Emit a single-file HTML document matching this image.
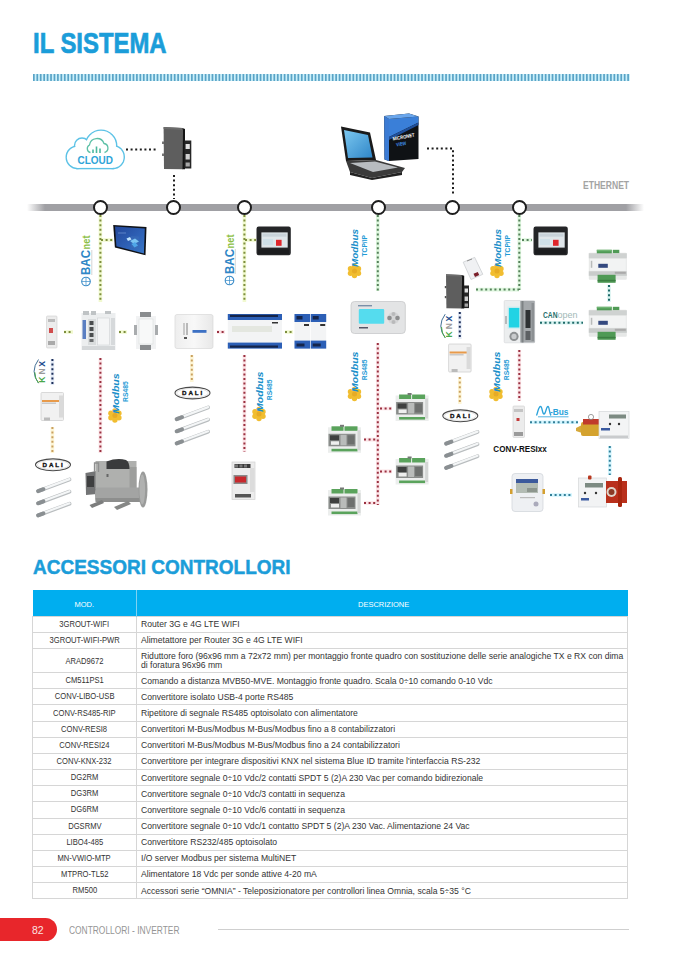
<!DOCTYPE html>
<html><head><meta charset="utf-8">
<style>
*{margin:0;padding:0;box-sizing:border-box}
html,body{width:678px;height:959px;background:#fff;overflow:hidden}
body{position:relative;font-family:"Liberation Sans",sans-serif;color:#333}
.a{position:absolute}
.t1{left:33px;top:26.5px;font-size:28.6px;font-weight:700;color:#1b9dd9;-webkit-text-stroke:0.7px #1b9dd9;white-space:nowrap;transform-origin:0 0;transform:scaleX(0.835);line-height:32px}
.dash{left:33px;top:73.5px;width:596px;height:7px;background:repeating-linear-gradient(90deg,#5aaacb 0 1.8px,#c9eefa 1.8px 3.44px)}
.bar{left:27px;top:204px;width:617px;height:7px;background:linear-gradient(90deg,rgba(160,160,164,0) 0,#a0a0a4 18px,#a0a0a4 599px,rgba(160,160,164,0) 617px)}
.node{width:15px;height:15px;border:2px solid #1d1d1d;border-radius:50%;background:#fff;top:200px}
.eth{left:583px;top:179.7px;font-size:10px;font-weight:700;color:#a3a3a3;white-space:nowrap;transform-origin:0 0;transform:scaleX(0.855)}
.t2{left:33px;top:554.6px;font-size:20.3px;font-weight:700;color:#1b9dd9;-webkit-text-stroke:0.5px #1b9dd9;white-space:nowrap;transform-origin:0 0;transform:scaleX(0.937);line-height:24px}
table{position:absolute;left:32px;top:590px;width:596px;border-collapse:collapse;font-size:8.6px;color:#333}
th{background:#00aeef;color:#fff;font-weight:400;height:26px;font-size:7.5px;padding-top:3px;border-right:1px solid #7fd2f2}
th:last-child{border-right:none}
td{height:16.17px;border:1px solid #d6d6d6;padding:3.5px 0 0 4px;line-height:8.8px;vertical-align:top}
td:first-child{text-align:center;padding:3.1px 0 0 0;width:104px;font-size:8.6px}
.c1{display:inline-block;transform:scaleX(0.885);white-space:nowrap}
tr.d td{height:24.3px;padding-top:3.5px}
tr.d td:first-child{padding-top:8px}
.pill{left:0;top:918px;width:57px;height:23px;background:#e8262b;border-radius:0 11.5px 11.5px 0}
.pg{left:32px;top:923px;font-size:10.5px;color:#fbe2e2;line-height:14px}
.foot{left:69px;top:923.5px;font-size:10px;color:#959595;white-space:nowrap;line-height:14px;transform-origin:0 0;transform:scaleX(0.84)}
.fline{left:218px;top:929px;width:411px;height:1px;background:#cfcfcf}
</style></head><body>
<div class="a t1">IL SISTEMA</div>
<svg class="a" style="left:32.9px;top:73.6px" width="597" height="7" viewBox="0 0 597 7"><rect width="597" height="7" fill="#cdf1fb"/><g fill="#5aa3c6"><rect x="0.00" width="1.7" height="7"/><rect x="3.44" width="1.7" height="7"/><rect x="6.87" width="1.7" height="7"/><rect x="10.31" width="1.7" height="7"/><rect x="13.74" width="1.7" height="7"/><rect x="17.18" width="1.7" height="7"/><rect x="20.61" width="1.7" height="7"/><rect x="24.05" width="1.7" height="7"/><rect x="27.48" width="1.7" height="7"/><rect x="30.92" width="1.7" height="7"/><rect x="34.35" width="1.7" height="7"/><rect x="37.79" width="1.7" height="7"/><rect x="41.22" width="1.7" height="7"/><rect x="44.66" width="1.7" height="7"/><rect x="48.09" width="1.7" height="7"/><rect x="51.53" width="1.7" height="7"/><rect x="54.96" width="1.7" height="7"/><rect x="58.40" width="1.7" height="7"/><rect x="61.83" width="1.7" height="7"/><rect x="65.27" width="1.7" height="7"/><rect x="68.70" width="1.7" height="7"/><rect x="72.14" width="1.7" height="7"/><rect x="75.57" width="1.7" height="7"/><rect x="79.01" width="1.7" height="7"/><rect x="82.44" width="1.7" height="7"/><rect x="85.88" width="1.7" height="7"/><rect x="89.31" width="1.7" height="7"/><rect x="92.75" width="1.7" height="7"/><rect x="96.18" width="1.7" height="7"/><rect x="99.62" width="1.7" height="7"/><rect x="103.05" width="1.7" height="7"/><rect x="106.49" width="1.7" height="7"/><rect x="109.92" width="1.7" height="7"/><rect x="113.36" width="1.7" height="7"/><rect x="116.79" width="1.7" height="7"/><rect x="120.23" width="1.7" height="7"/><rect x="123.66" width="1.7" height="7"/><rect x="127.10" width="1.7" height="7"/><rect x="130.53" width="1.7" height="7"/><rect x="133.97" width="1.7" height="7"/><rect x="137.40" width="1.7" height="7"/><rect x="140.84" width="1.7" height="7"/><rect x="144.27" width="1.7" height="7"/><rect x="147.71" width="1.7" height="7"/><rect x="151.14" width="1.7" height="7"/><rect x="154.58" width="1.7" height="7"/><rect x="158.01" width="1.7" height="7"/><rect x="161.45" width="1.7" height="7"/><rect x="164.88" width="1.7" height="7"/><rect x="168.32" width="1.7" height="7"/><rect x="171.75" width="1.7" height="7"/><rect x="175.19" width="1.7" height="7"/><rect x="178.62" width="1.7" height="7"/><rect x="182.06" width="1.7" height="7"/><rect x="185.49" width="1.7" height="7"/><rect x="188.93" width="1.7" height="7"/><rect x="192.36" width="1.7" height="7"/><rect x="195.80" width="1.7" height="7"/><rect x="199.23" width="1.7" height="7"/><rect x="202.67" width="1.7" height="7"/><rect x="206.10" width="1.7" height="7"/><rect x="209.54" width="1.7" height="7"/><rect x="212.97" width="1.7" height="7"/><rect x="216.41" width="1.7" height="7"/><rect x="219.84" width="1.7" height="7"/><rect x="223.28" width="1.7" height="7"/><rect x="226.71" width="1.7" height="7"/><rect x="230.15" width="1.7" height="7"/><rect x="233.58" width="1.7" height="7"/><rect x="237.02" width="1.7" height="7"/><rect x="240.45" width="1.7" height="7"/><rect x="243.89" width="1.7" height="7"/><rect x="247.32" width="1.7" height="7"/><rect x="250.76" width="1.7" height="7"/><rect x="254.19" width="1.7" height="7"/><rect x="257.63" width="1.7" height="7"/><rect x="261.06" width="1.7" height="7"/><rect x="264.50" width="1.7" height="7"/><rect x="267.93" width="1.7" height="7"/><rect x="271.37" width="1.7" height="7"/><rect x="274.80" width="1.7" height="7"/><rect x="278.24" width="1.7" height="7"/><rect x="281.67" width="1.7" height="7"/><rect x="285.11" width="1.7" height="7"/><rect x="288.54" width="1.7" height="7"/><rect x="291.98" width="1.7" height="7"/><rect x="295.41" width="1.7" height="7"/><rect x="298.85" width="1.7" height="7"/><rect x="302.28" width="1.7" height="7"/><rect x="305.72" width="1.7" height="7"/><rect x="309.15" width="1.7" height="7"/><rect x="312.59" width="1.7" height="7"/><rect x="316.02" width="1.7" height="7"/><rect x="319.46" width="1.7" height="7"/><rect x="322.89" width="1.7" height="7"/><rect x="326.33" width="1.7" height="7"/><rect x="329.76" width="1.7" height="7"/><rect x="333.20" width="1.7" height="7"/><rect x="336.63" width="1.7" height="7"/><rect x="340.07" width="1.7" height="7"/><rect x="343.50" width="1.7" height="7"/><rect x="346.94" width="1.7" height="7"/><rect x="350.37" width="1.7" height="7"/><rect x="353.81" width="1.7" height="7"/><rect x="357.24" width="1.7" height="7"/><rect x="360.68" width="1.7" height="7"/><rect x="364.11" width="1.7" height="7"/><rect x="367.55" width="1.7" height="7"/><rect x="370.98" width="1.7" height="7"/><rect x="374.42" width="1.7" height="7"/><rect x="377.85" width="1.7" height="7"/><rect x="381.29" width="1.7" height="7"/><rect x="384.72" width="1.7" height="7"/><rect x="388.16" width="1.7" height="7"/><rect x="391.59" width="1.7" height="7"/><rect x="395.03" width="1.7" height="7"/><rect x="398.46" width="1.7" height="7"/><rect x="401.90" width="1.7" height="7"/><rect x="405.33" width="1.7" height="7"/><rect x="408.77" width="1.7" height="7"/><rect x="412.20" width="1.7" height="7"/><rect x="415.64" width="1.7" height="7"/><rect x="419.07" width="1.7" height="7"/><rect x="422.51" width="1.7" height="7"/><rect x="425.94" width="1.7" height="7"/><rect x="429.38" width="1.7" height="7"/><rect x="432.81" width="1.7" height="7"/><rect x="436.25" width="1.7" height="7"/><rect x="439.68" width="1.7" height="7"/><rect x="443.12" width="1.7" height="7"/><rect x="446.55" width="1.7" height="7"/><rect x="449.99" width="1.7" height="7"/><rect x="453.42" width="1.7" height="7"/><rect x="456.86" width="1.7" height="7"/><rect x="460.29" width="1.7" height="7"/><rect x="463.73" width="1.7" height="7"/><rect x="467.16" width="1.7" height="7"/><rect x="470.60" width="1.7" height="7"/><rect x="474.03" width="1.7" height="7"/><rect x="477.47" width="1.7" height="7"/><rect x="480.90" width="1.7" height="7"/><rect x="484.34" width="1.7" height="7"/><rect x="487.77" width="1.7" height="7"/><rect x="491.21" width="1.7" height="7"/><rect x="494.64" width="1.7" height="7"/><rect x="498.08" width="1.7" height="7"/><rect x="501.51" width="1.7" height="7"/><rect x="504.94" width="1.7" height="7"/><rect x="508.38" width="1.7" height="7"/><rect x="511.81" width="1.7" height="7"/><rect x="515.25" width="1.7" height="7"/><rect x="518.68" width="1.7" height="7"/><rect x="522.12" width="1.7" height="7"/><rect x="525.55" width="1.7" height="7"/><rect x="528.99" width="1.7" height="7"/><rect x="532.42" width="1.7" height="7"/><rect x="535.86" width="1.7" height="7"/><rect x="539.29" width="1.7" height="7"/><rect x="542.73" width="1.7" height="7"/><rect x="546.16" width="1.7" height="7"/><rect x="549.60" width="1.7" height="7"/><rect x="553.03" width="1.7" height="7"/><rect x="556.47" width="1.7" height="7"/><rect x="559.90" width="1.7" height="7"/><rect x="563.34" width="1.7" height="7"/><rect x="566.77" width="1.7" height="7"/><rect x="570.21" width="1.7" height="7"/><rect x="573.64" width="1.7" height="7"/><rect x="577.08" width="1.7" height="7"/><rect x="580.51" width="1.7" height="7"/><rect x="583.95" width="1.7" height="7"/><rect x="587.38" width="1.7" height="7"/><rect x="590.82" width="1.7" height="7"/><rect x="594.25" width="1.7" height="7"/></g></svg>

<div class="a eth">ETHERNET</div>
<div class="a bar"></div>
<div class="a node" style="left:93px"></div>
<div class="a node" style="left:166px"></div>
<div class="a node" style="left:237px"></div>
<div class="a node" style="left:371px"></div>
<div class="a node" style="left:445px"></div>
<div class="a node" style="left:512px"></div>

<svg class="a" style="left:0;top:0" width="678" height="560" viewBox="0 0 678 560">
<defs>
<linearGradient id="scr1" x1="0" y1="0" x2="1" y2="1"><stop offset="0" stop-color="#23479a"/><stop offset="0.6" stop-color="#2f63b8"/><stop offset="1" stop-color="#3a78c8"/></linearGradient>
<linearGradient id="lap" x1="0" y1="0" x2="1" y2="1"><stop offset="0" stop-color="#7cc8f0"/><stop offset="1" stop-color="#2f86c8"/></linearGradient>
<linearGradient id="box" x1="0" y1="0" x2="0" y2="1"><stop offset="0" stop-color="#2b6fd0"/><stop offset="1" stop-color="#5b9be8"/></linearGradient>
</defs>
<g fill="none" stroke-linecap="butt">
<!-- black dots top -->
<path d="M126 149.5H158M174 175V199M427 148.6H453V194" stroke="#1e1e1e" stroke-width="2" stroke-dasharray="2 2.6"/>
<!-- yellow-green BACnet dots -->
<path d="M100.4 215V302M101 240H113M244.4 215V302M245 240H256" stroke="#f1f9cf" stroke-width="3.6"/>
<path d="M100.4 215V302M101 240H113M244.4 215V302M245 240H256" stroke="#7d8e3e" stroke-width="2" stroke-dasharray="2 2.6"/>
<path d="M64 332H73M119 332H127M285 332H293" stroke="#f1f9cf" stroke-width="3.6"/>
<path d="M64 332H73M119 332H127M285 332H293" stroke="#7d8e3e" stroke-width="2" stroke-dasharray="2 2.6"/>
<!-- green modbus tcp dots -->
<path d="M377.8 215V291M519.3 215V290M476 289.6H519M522 240H532" stroke="#ddf6dd" stroke-width="3.6"/>
<path d="M377.8 215V291M519.3 215V290M476 289.6H519M522 240H532" stroke="#55805a" stroke-width="2" stroke-dasharray="2 2.6"/>
<!-- red dots -->
<path d="M100.4 358V453M244.4 355V452M217 332H225M377.8 343V505M519.3 350V401M380 408.5H392M380 471.4H392M364 439.6H376M364 503H376" stroke="#fbe3e6" stroke-width="3.6"/>
<path d="M100.4 358V453M244.4 355V452M217 332H225M377.8 343V505M519.3 350V401M380 408.5H392M380 471.4H392M364 439.6H376M364 503H376" stroke="#9a3040" stroke-width="2" stroke-dasharray="2 2.6"/>
<!-- orange dots -->
<path d="M52.4 427V453M191.8 355V382M459.8 377V404" stroke="#fdf5d6" stroke-width="3.6"/>
<path d="M52.4 427V453M191.8 355V382M459.8 377V404" stroke="#c9a060" stroke-width="2" stroke-dasharray="2 2.6"/>
<!-- blue knx dots -->
<path d="M52.4 359V385M459.8 312V339" stroke="#e3eaf6" stroke-width="3.6"/>
<path d="M52.4 359V385M459.8 312V339" stroke="#1d2f5a" stroke-width="2" stroke-dasharray="2 2.6"/>
<!-- teal canopen dots -->
<path d="M540 322.7H583M609 285V302" stroke="#d9f3f1" stroke-width="3.6"/>
<path d="M540 322.7H583M609 285V302" stroke="#1e6a68" stroke-width="2" stroke-dasharray="2 2.6"/>
<!-- mbus blue dots -->
<path d="M530 422.3H578M609.8 446V475M550 495H572" stroke="#d4f6ff" stroke-width="3.6"/>
<path d="M530 422.3H578M609.8 446V475M550 495H572" stroke="#337f98" stroke-width="2" stroke-dasharray="2 2.6"/>
</g>
</svg>
<svg class="a" style="left:0;top:0" width="678" height="560" viewBox="0 0 678 560" font-family="Liberation Sans, sans-serif">
<!-- cloud -->
<g stroke="#5cc2e6" stroke-width="2.8" fill="#5cc2e6"><circle cx="77.5" cy="157.3" r="10.6"/><circle cx="82" cy="145.5" r="6.8"/><circle cx="101" cy="145.8" r="15"/><circle cx="112.8" cy="157" r="10.8"/><rect x="77.5" y="150" width="35.3" height="17.9"/></g>
<g fill="#fff"><circle cx="77.5" cy="157.3" r="10.6"/><circle cx="82" cy="145.5" r="6.8"/><circle cx="101" cy="145.8" r="15"/><circle cx="112.8" cy="157" r="10.8"/><rect x="77.5" y="150" width="35.3" height="17.9"/></g>
<path d="M90.5 152.5A4 4 0 0 1 89.5 145A7.5 7.5 0 0 1 104 143.5A4.6 4.6 0 0 1 104.5 152.5" fill="none" stroke="#5cc0a6" stroke-width="1.3"/>
<path d="M93 153V149.5M96.5 153V146.5M100 153V148.5" stroke="#4db89e" stroke-width="1.6"/>
<text x="77.5" y="164.3" font-size="11.8" font-weight="700" fill="#2ea4d8" textLength="35.5" lengthAdjust="spacingAndGlyphs">CLOUD</text>
<!-- router 1 -->
<path d="M163.6 127L182.5 128L183 169.2L164 169.1Z" fill="#5e5e5e"/>
<path d="M163.6 127L182.5 128L182.5 130L163.6 129Z" fill="#6c6c6c"/>
<path d="M182.5 128L185 129V169.2H182.5Z" fill="#141414"/>
<rect x="184.5" y="140.5" width="6.8" height="28" fill="#262626"/>
<rect x="185.6" y="144" width="4.2" height="5" fill="#e2e2e2"/>
<rect x="185.6" y="154" width="4.2" height="5.5" fill="#d0d0d0"/>
<rect x="185.6" y="162.5" width="4.2" height="4" fill="#a8a8a8"/>
<rect x="162.2" y="141.5" width="1.6" height="2.5" fill="#555"/>
<rect x="162.2" y="153.5" width="1.6" height="2.5" fill="#555"/>
<!-- laptop -->
<path d="M341 126.5L370 132.5L376 160L346 161Z" fill="#1a1a1a"/>
<path d="M344 130L368 135L372.5 157.5L348 158Z" fill="url(#lap)"/>
<path d="M346 161L376 160L405 168L402 172L372 178L350 172Z" fill="#3a3a3a"/>
<path d="M350 163L375 161.5L398 167.5L373 172Z" fill="#b8bcc0"/>
<path d="M350 172L372 178L402 172L402 175L372 180L350 175Z" fill="#222"/>
<!-- software box -->
<defs><linearGradient id="bx2" x1="0" y1="0" x2="1" y2="1"><stop offset="0" stop-color="#3f86e0"/><stop offset="0.38" stop-color="#2c62b8"/><stop offset="0.42" stop-color="#111418"/><stop offset="1" stop-color="#0c0e11"/></linearGradient></defs>
<path d="M384.2 116L409 113.5L418.5 116.5L418.5 159L389 161L384.5 159.5Z" fill="#0f1215"/>
<path d="M389 119L418.5 116.5L418.5 122.5L389 137Z" fill="#3a7fd8"/><path d="M389 137L418.5 122.5L418.5 125L389 140Z" fill="#1f4f9a"/>
<path d="M384.2 116L389 119L389 161L384.5 159.5Z" fill="#3b7bd4"/>
<path d="M384.2 116L409 113.5L418.5 116.5L389 119Z" fill="#6aa6ec"/>
<text x="393" y="140.5" font-size="5" font-weight="700" fill="#fff" transform="rotate(-10 393 140.5)" textLength="22" lengthAdjust="spacingAndGlyphs">MICRONET</text>
<text x="396.5" y="146.5" font-size="5" font-weight="700" fill="#3f8fe8" transform="rotate(-10 396.5 146.5)" textLength="10" lengthAdjust="spacingAndGlyphs">VIEW</text>
</svg>
<svg class="a" style="left:0;top:0" width="678" height="560" viewBox="0 0 678 560" font-family="Liberation Sans, sans-serif">
<defs>
<g id="modstar" fill="#f1bd30"><circle r="4.6"/><circle cx="0" cy="-4.6" r="2.7"/><circle cx="4" cy="-2.3" r="2.7"/><circle cx="4" cy="2.3" r="2.7"/><circle cx="0" cy="4.6" r="2.7"/><circle cx="-4" cy="2.3" r="2.7"/><circle cx="-4" cy="-2.3" r="2.7"/><circle r="2.5" fill="#e6ab26"/></g>
</defs>
<g transform="translate(354.5 271)"><g fill="#f1bd30"><circle r="4.6"/><circle cx="0" cy="-4.6" r="2.7"/><circle cx="4" cy="-2.3" r="2.7"/><circle cx="4" cy="2.3" r="2.7"/><circle cx="0" cy="4.6" r="2.7"/><circle cx="-4" cy="2.3" r="2.7"/><circle cx="-4" cy="-2.3" r="2.7"/><circle r="2.5" fill="#e6ab26"/></g></g>
<g transform="translate(497 271)"><g fill="#f1bd30"><circle r="4.6"/><circle cx="0" cy="-4.6" r="2.7"/><circle cx="4" cy="-2.3" r="2.7"/><circle cx="4" cy="2.3" r="2.7"/><circle cx="0" cy="4.6" r="2.7"/><circle cx="-4" cy="2.3" r="2.7"/><circle cx="-4" cy="-2.3" r="2.7"/><circle r="2.5" fill="#e6ab26"/></g></g>
<g transform="translate(114.9 415.5)"><g fill="#f1bd30"><circle r="4.6"/><circle cx="0" cy="-4.6" r="2.7"/><circle cx="4" cy="-2.3" r="2.7"/><circle cx="4" cy="2.3" r="2.7"/><circle cx="0" cy="4.6" r="2.7"/><circle cx="-4" cy="2.3" r="2.7"/><circle cx="-4" cy="-2.3" r="2.7"/><circle r="2.5" fill="#e6ab26"/></g></g>
<g transform="translate(259 414)"><g fill="#f1bd30"><circle r="4.6"/><circle cx="0" cy="-4.6" r="2.7"/><circle cx="4" cy="-2.3" r="2.7"/><circle cx="4" cy="2.3" r="2.7"/><circle cx="0" cy="4.6" r="2.7"/><circle cx="-4" cy="2.3" r="2.7"/><circle cx="-4" cy="-2.3" r="2.7"/><circle r="2.5" fill="#e6ab26"/></g></g>
<g transform="translate(354.5 394)"><g fill="#f1bd30"><circle r="4.6"/><circle cx="0" cy="-4.6" r="2.7"/><circle cx="4" cy="-2.3" r="2.7"/><circle cx="4" cy="2.3" r="2.7"/><circle cx="0" cy="4.6" r="2.7"/><circle cx="-4" cy="2.3" r="2.7"/><circle cx="-4" cy="-2.3" r="2.7"/><circle r="2.5" fill="#e6ab26"/></g></g>
<g transform="translate(496 394)"><g fill="#f1bd30"><circle r="4.6"/><circle cx="0" cy="-4.6" r="2.7"/><circle cx="4" cy="-2.3" r="2.7"/><circle cx="4" cy="2.3" r="2.7"/><circle cx="0" cy="4.6" r="2.7"/><circle cx="-4" cy="2.3" r="2.7"/><circle cx="-4" cy="-2.3" r="2.7"/><circle r="2.5" fill="#e6ab26"/></g></g>
<!-- touch panel 1 -->
<path d="M113.2 224.9L146.5 226.9L145.5 255.3L114.9 247.5Z" fill="#0f1116"/>
<path d="M115 226.6L144.8 228.5L143.9 253.4L116.4 246.2Z" fill="url(#scr1)"/>
<path d="M131 236L139 236.5L138.5 250L131 247.5Z" fill="#3b6cb8" opacity="0.6"/>
<path d="M126.5 238.5L130 237L131.5 239.5L128 241Z" fill="#bfe3ff"/>
<path d="M130 241L135 238.5L139 241.5L134 244Z" fill="#7cc4f2"/>
<path d="M131.5 244L135 242L138 245.5L134.5 247.5Z" fill="#4fa6e8"/>
<path d="M118 233H126" stroke="#6a8fcf" stroke-width="0.8"/>
<g transform="translate(-277 0)"><rect x="533.5" y="226.6" width="34.3" height="28.6" rx="2.2" fill="#242527"/>
<rect x="538.4" y="232.4" width="26.3" height="15.2" fill="#dfe6ea"/>
<rect x="539.5" y="233.5" width="24" height="3.2" fill="#c9d3da"/>
<rect x="540" y="239" width="10" height="6" fill="#cfe0e8"/>
<rect x="553" y="239.8" width="5.6" height="6" fill="#e0262b"/>
<rect x="535" y="249.5" width="31" height="4.5" fill="#1b1c1e"/></g>

<g transform="translate(0 0)"><rect x="533.5" y="226.6" width="34.3" height="28.6" rx="2.2" fill="#242527"/>
<rect x="538.4" y="232.4" width="26.3" height="15.2" fill="#dfe6ea"/>
<rect x="539.5" y="233.5" width="24" height="3.2" fill="#c9d3da"/>
<rect x="540" y="239" width="10" height="6" fill="#cfe0e8"/>
<rect x="553" y="239.8" width="5.6" height="6" fill="#e0262b"/>
<rect x="535" y="249.5" width="31" height="4.5" fill="#1b1c1e"/></g>
<!-- BACnet logos -->
<g transform="translate(90.3 287) rotate(-90)"><circle cx="5.5" cy="-4.3" r="4.3" fill="#fff" stroke="#3a8cc8" stroke-width="1.1"/><path d="M1.5 -4.3H9.5M5.5 -8.6V0" stroke="#3a8cc8" stroke-width="0.7"/><text x="12" font-size="12" font-weight="700" fill="#2f86c6" textLength="25" lengthAdjust="spacingAndGlyphs">BAC</text><text x="37.5" font-size="11" font-weight="700" fill="#8dbf47" textLength="14" lengthAdjust="spacingAndGlyphs">net</text><path d="M12 1.5H37" stroke="#aaa" stroke-width="0.5"/></g>
<g transform="translate(233.8 286) rotate(-90)"><circle cx="5.5" cy="-4.3" r="4.3" fill="#fff" stroke="#3a8cc8" stroke-width="1.1"/><path d="M1.5 -4.3H9.5M5.5 -8.6V0" stroke="#3a8cc8" stroke-width="0.7"/><text x="12" font-size="12" font-weight="700" fill="#2f86c6" textLength="25" lengthAdjust="spacingAndGlyphs">BAC</text><text x="37.5" font-size="11" font-weight="700" fill="#8dbf47" textLength="14" lengthAdjust="spacingAndGlyphs">net</text><path d="M12 1.5H37" stroke="#aaa" stroke-width="0.5"/></g>

<!-- Modbus logos: TCP/IP -->
<g transform="translate(358.3 267) rotate(-90)"><text font-size="9" font-weight="700" font-style="italic" fill="#1b8fca" textLength="38" lengthAdjust="spacingAndGlyphs">Modbus</text><text x="10.5" y="9.2" font-size="6.5" font-weight="700" fill="#1f9bd6" textLength="21.5" lengthAdjust="spacingAndGlyphs">TCP/IP</text></g>
<g transform="translate(501 267) rotate(-90)"><text font-size="9" font-weight="700" font-style="italic" fill="#1b8fca" textLength="38" lengthAdjust="spacingAndGlyphs">Modbus</text><text x="10.5" y="9.2" font-size="6.5" font-weight="700" fill="#1f9bd6" textLength="21.5" lengthAdjust="spacingAndGlyphs">TCP/IP</text></g>
<!-- Modbus RS485 -->
<g transform="translate(118.6 413.8) rotate(-90)"><text font-size="9" font-weight="700" font-style="italic" fill="#1b8fca" textLength="40.5" lengthAdjust="spacingAndGlyphs">Modbus</text><text x="11.8" y="9.2" font-size="6.5" font-weight="700" fill="#1f9bd6" textLength="20.7" lengthAdjust="spacingAndGlyphs">RS485</text></g>
<g transform="translate(262.6 412) rotate(-90)"><text font-size="9" font-weight="700" font-style="italic" fill="#1b8fca" textLength="40.5" lengthAdjust="spacingAndGlyphs">Modbus</text><text x="11.8" y="9.2" font-size="6.5" font-weight="700" fill="#1f9bd6" textLength="20.7" lengthAdjust="spacingAndGlyphs">RS485</text></g>
<g transform="translate(358.3 392) rotate(-90)"><text font-size="9" font-weight="700" font-style="italic" fill="#1b8fca" textLength="40.5" lengthAdjust="spacingAndGlyphs">Modbus</text><text x="11.8" y="9.2" font-size="6.5" font-weight="700" fill="#1f9bd6" textLength="20.7" lengthAdjust="spacingAndGlyphs">RS485</text></g>
<g transform="translate(500 392) rotate(-90)"><text font-size="9" font-weight="700" font-style="italic" fill="#1b8fca" textLength="40.5" lengthAdjust="spacingAndGlyphs">Modbus</text><text x="11.8" y="9.2" font-size="6.5" font-weight="700" fill="#1f9bd6" textLength="20.7" lengthAdjust="spacingAndGlyphs">RS485</text></g>

<!-- KNX logos -->
<g transform="translate(45.1 382.7) rotate(-90)" font-size="8.6" font-weight="700"><text x="0" fill="#4aa84a">K</text><text x="8.2" fill="#9a9a9a">N</text><text x="16" fill="#1f4f8f">X</text></g><path d="M38.5 359.5Q29.7 371.3 38.5 383.1" fill="none" stroke="#2c5f8a" stroke-width="0.9"/><path d="M34.8 372.3Q35.0 379.3 38.5 383.1" fill="none" stroke="#4aa84a" stroke-width="1"/>
<g transform="translate(451.8 337.4) rotate(-90)" font-size="8.6" font-weight="700"><text x="0" fill="#4aa84a">K</text><text x="8.2" fill="#9a9a9a">N</text><text x="16" fill="#1f4f8f">X</text></g><path d="M445.2 314.2Q436.4 326.0 445.2 337.8" fill="none" stroke="#2c5f8a" stroke-width="0.9"/><path d="M441.5 327.0Q441.7 334.0 445.2 337.8" fill="none" stroke="#4aa84a" stroke-width="1"/>
<!-- DALI logos -->
<g id="dali"><ellipse cx="53" cy="464.8" rx="17.5" ry="5.9" fill="#fff" stroke="#4a4a4a" stroke-width="1.1"/><ellipse cx="53" cy="464.8" rx="15.8" ry="4.6" fill="none" stroke="#bbb" stroke-width="0.4"/><text x="42.6" y="467.2" font-size="6.2" font-weight="700" fill="#111" stroke="#111" stroke-width="0.35" letter-spacing="1.9">DALI</text></g>
<g transform="translate(139.5 -71.8)"><g><ellipse cx="53" cy="464.8" rx="17.5" ry="5.9" fill="#fff" stroke="#4a4a4a" stroke-width="1.1"/><ellipse cx="53" cy="464.8" rx="15.8" ry="4.6" fill="none" stroke="#bbb" stroke-width="0.4"/><text x="42.6" y="467.2" font-size="6.2" font-weight="700" fill="#111" stroke="#111" stroke-width="0.35" letter-spacing="1.9">DALI</text></g></g>
<g transform="translate(407.3 -49)"><g><ellipse cx="53" cy="464.8" rx="17.5" ry="5.9" fill="#fff" stroke="#4a4a4a" stroke-width="1.1"/><ellipse cx="53" cy="464.8" rx="15.8" ry="4.6" fill="none" stroke="#bbb" stroke-width="0.4"/><text x="42.6" y="467.2" font-size="6.2" font-weight="700" fill="#111" stroke="#111" stroke-width="0.35" letter-spacing="1.9">DALI</text></g></g>
<!-- tubes -->
<g id="tubes">
<g id="tube"><path d="M38.5 491L69.5 479.5" stroke="#b9bdbf" stroke-width="3.8" stroke-linecap="round"/><path d="M38.5 490.6L69.5 479.1" stroke="#f4f6f7" stroke-width="2.2" stroke-linecap="round"/><path d="M38 491.2L43.5 489.2" stroke="#8a8f92" stroke-width="3.9" stroke-linecap="round"/></g>
<g transform="translate(0 12.1)"><g><path d="M38.5 491L69.5 479.5" stroke="#b9bdbf" stroke-width="3.8" stroke-linecap="round"/><path d="M38.5 490.6L69.5 479.1" stroke="#f4f6f7" stroke-width="2.2" stroke-linecap="round"/><path d="M38 491.2L43.5 489.2" stroke="#8a8f92" stroke-width="3.9" stroke-linecap="round"/></g></g><g transform="translate(0 24.2)"><g><path d="M38.5 491L69.5 479.5" stroke="#b9bdbf" stroke-width="3.8" stroke-linecap="round"/><path d="M38.5 490.6L69.5 479.1" stroke="#f4f6f7" stroke-width="2.2" stroke-linecap="round"/><path d="M38 491.2L43.5 489.2" stroke="#8a8f92" stroke-width="3.9" stroke-linecap="round"/></g></g>
</g>
<g transform="translate(138.6 -72)"><g>
<g id="tube"><path d="M38.5 491L69.5 479.5" stroke="#b9bdbf" stroke-width="3.8" stroke-linecap="round"/><path d="M38.5 490.6L69.5 479.1" stroke="#f4f6f7" stroke-width="2.2" stroke-linecap="round"/><path d="M38 491.2L43.5 489.2" stroke="#8a8f92" stroke-width="3.9" stroke-linecap="round"/></g>
<g transform="translate(0 12.1)"><g><path d="M38.5 491L69.5 479.5" stroke="#b9bdbf" stroke-width="3.8" stroke-linecap="round"/><path d="M38.5 490.6L69.5 479.1" stroke="#f4f6f7" stroke-width="2.2" stroke-linecap="round"/><path d="M38 491.2L43.5 489.2" stroke="#8a8f92" stroke-width="3.9" stroke-linecap="round"/></g></g><g transform="translate(0 24.2)"><g><path d="M38.5 491L69.5 479.5" stroke="#b9bdbf" stroke-width="3.8" stroke-linecap="round"/><path d="M38.5 490.6L69.5 479.1" stroke="#f4f6f7" stroke-width="2.2" stroke-linecap="round"/><path d="M38 491.2L43.5 489.2" stroke="#8a8f92" stroke-width="3.9" stroke-linecap="round"/></g></g>
</g></g>
<g transform="translate(408 -47.5)"><g>
<g id="tube"><path d="M38.5 491L69.5 479.5" stroke="#b9bdbf" stroke-width="3.8" stroke-linecap="round"/><path d="M38.5 490.6L69.5 479.1" stroke="#f4f6f7" stroke-width="2.2" stroke-linecap="round"/><path d="M38 491.2L43.5 489.2" stroke="#8a8f92" stroke-width="3.9" stroke-linecap="round"/></g>
<g transform="translate(0 12.1)"><g><path d="M38.5 491L69.5 479.5" stroke="#b9bdbf" stroke-width="3.8" stroke-linecap="round"/><path d="M38.5 490.6L69.5 479.1" stroke="#f4f6f7" stroke-width="2.2" stroke-linecap="round"/><path d="M38 491.2L43.5 489.2" stroke="#8a8f92" stroke-width="3.9" stroke-linecap="round"/></g></g><g transform="translate(0 24.2)"><g><path d="M38.5 491L69.5 479.5" stroke="#b9bdbf" stroke-width="3.8" stroke-linecap="round"/><path d="M38.5 490.6L69.5 479.1" stroke="#f4f6f7" stroke-width="2.2" stroke-linecap="round"/><path d="M38 491.2L43.5 489.2" stroke="#8a8f92" stroke-width="3.9" stroke-linecap="round"/></g></g>
</g></g>
</svg>
<svg class="a" style="left:0;top:0" width="678" height="560" viewBox="0 0 678 560" font-family="Liberation Sans, sans-serif">
<defs>
<linearGradient id="gw" x1="0" y1="0" x2="1" y2="0"><stop offset="0" stop-color="#eeeeee"/><stop offset="0.5" stop-color="#f8f8f8"/><stop offset="1" stop-color="#e8e8e8"/></linearGradient>
<linearGradient id="rt" x1="0" y1="0" x2="1" y2="0"><stop offset="0" stop-color="#5a5a5a"/><stop offset="1" stop-color="#3c3c3c"/></linearGradient>
<g id="io"><rect x="0" y="1" width="33" height="25.5" fill="#eceeed"/><rect x="3.5" y="0" width="12" height="4.5" fill="#5aa35c"/><rect x="16.5" y="0" width="13" height="4.5" fill="#5aa35c"/><rect x="12" y="-1.5" width="4" height="2" fill="#777"/><rect x="0.5" y="7.5" width="27" height="12.5" fill="#8a8d8b"/><rect x="2" y="9" width="9" height="5" fill="#3e403f"/><rect x="12.5" y="8.5" width="6" height="10.5" fill="#b9bcba"/><rect x="19.5" y="9" width="7" height="9" fill="#6d706e"/><rect x="3" y="15" width="8" height="3.5" fill="#eeefee"/><rect x="3.5" y="22.5" width="26" height="2.6" fill="#5aa35c"/><rect x="29.5" y="4" width="3" height="20" fill="#d4d6d5"/></g>
<g id="din"><rect x="0" y="0" width="22.5" height="28" rx="1" fill="#f1f1f1"/><rect x="0" y="0" width="22.5" height="28" rx="1" fill="none" stroke="#d0d0d0" stroke-width="0.8"/><rect x="1" y="7.5" width="20" height="2" fill="#e89a4a"/><rect x="1" y="10" width="14" height="1.5" fill="#c9c9c9"/><rect x="18" y="3" width="4" height="22" fill="#dadada"/><rect x="3" y="25" width="6" height="3" fill="#bbb"/></g>
<g id="expm"><rect x="0" y="3" width="38" height="27" rx="1" fill="#e6e8e7"/><rect x="8" y="0" width="15" height="6" fill="#4f9a55"/><rect x="8" y="0" width="15" height="1.5" fill="#6fb573"/><rect x="24" y="0" width="6.5" height="3.5" fill="#4f9a55"/><rect x="0" y="3.5" width="38" height="5" fill="#cfd2d1"/><rect x="1" y="9" width="36" height="12" fill="#f2f3f3"/><rect x="9.5" y="14" width="9.5" height="4" fill="#34497f"/><rect x="2" y="11" width="1.5" height="7" fill="#b8bbba"/><rect x="0" y="21.5" width="38" height="4.5" fill="#c9cccb"/><rect x="8.8" y="25" width="18" height="8" fill="#4f9a55"/><rect x="8.8" y="30" width="18" height="1.5" fill="#3c7f42"/><rect x="26" y="22" width="11" height="2" fill="#aaa"/></g>
</defs>
<!-- row A devices -->
<rect x="46.5" y="316" width="10.5" height="32" rx="1" fill="#ececec"/>
<rect x="46.5" y="316" width="10.5" height="32" rx="1" fill="none" stroke="#cfcfcf" stroke-width="0.6"/>
<rect x="48" y="319" width="7" height="3" fill="#bbb"/>
<rect x="49" y="328" width="4" height="5" fill="#d04c4c"/>
<rect x="48" y="341" width="7" height="4" fill="#aaa"/>
<!-- main controller A -->
<rect x="81.5" y="313" width="34" height="37" fill="#eceeef"/>
<rect x="83" y="311" width="6" height="4" fill="#bfc3c5"/><rect x="91" y="311" width="5" height="4" fill="#bfc3c5"/><rect x="105" y="311" width="6" height="3" fill="#bfc3c5"/>
<rect x="82.5" y="320" width="3.5" height="19" fill="#5b7fc2"/>
<rect x="88" y="319" width="8" height="26" fill="#d9dcdd"/>
<rect x="89.5" y="321" width="4" height="4" fill="#4a4d4f"/><rect x="89.5" y="327" width="4" height="4" fill="#4a4d4f"/><rect x="89.5" y="333" width="4" height="4" fill="#4a4d4f"/><rect x="89.5" y="339" width="4" height="3" fill="#6a6d6f"/>
<rect x="97.5" y="318" width="12" height="27" fill="#f4f5f6" stroke="#d0d3d5" stroke-width="0.6"/>
<rect x="111" y="318" width="4" height="27" fill="#d6d9db"/>
<rect x="82" y="346" width="33" height="4" fill="#d5d8da"/>
<!-- module A right -->
<rect x="136" y="316" width="20" height="33" fill="#f1f2f3"/>
<rect x="140" y="312" width="11" height="5" fill="#8a8d8f"/>
<rect x="140" y="345" width="11" height="5" fill="#8a8d8f"/>
<rect x="134" y="325" width="3" height="10" fill="#a9acae"/><rect x="155" y="325" width="3" height="10" fill="#a9acae"/>
<rect x="139" y="319" width="14" height="25" fill="#f8f9f9" stroke="#dadcdd" stroke-width="0.6"/>
<!-- gateway B -->
<rect x="175" y="314.5" width="38" height="34" rx="2" fill="url(#gw)"/>
<rect x="175" y="314.5" width="38" height="34" rx="2" fill="none" stroke="#d8d8d8" stroke-width="0.7"/>
<rect x="183" y="323" width="2" height="12" fill="#c9c9c9"/><rect x="186" y="323" width="2" height="12" fill="#b9b9b9"/>
<rect x="192.5" y="330" width="14" height="2.8" fill="#3d71c4"/>
<rect x="184" y="337" width="3" height="2" fill="#555"/>
<!-- wide controller B -->
<rect x="227.8" y="314" width="54.2" height="34.6" fill="#f3f4f5"/>
<rect x="227.8" y="314" width="54.2" height="6" fill="#2c5fb6"/>
<rect x="230" y="314.8" width="48" height="2.2" fill="#15254a"/>
<rect x="227.8" y="342.6" width="54.2" height="6" fill="#2c5fb6"/>
<rect x="230" y="345.5" width="48" height="2.2" fill="#15254a"/>
<rect x="232" y="326" width="40" height="6" fill="#e4e7e0"/>
<rect x="272" y="322" width="6" height="1.5" fill="#333"/>
<!-- 2 modules B -->
<g id="bm"><rect x="294.5" y="314" width="15.5" height="34.6" fill="#f3f4f5"/><rect x="294.5" y="314" width="15.5" height="8" fill="#2c5fb6"/><rect x="296.5" y="316" width="6" height="3.5" fill="#15254a"/><rect x="294.5" y="340.6" width="15.5" height="8" fill="#2c5fb6"/><rect x="296.5" y="343.5" width="8" height="3" fill="#15254a"/><rect x="304" y="324" width="5" height="2" fill="#333"/></g>
<g transform="translate(16.2 0)"><g><rect x="294.5" y="314" width="15.5" height="34.6" fill="#f3f4f5"/><rect x="294.5" y="314" width="15.5" height="8" fill="#2c5fb6"/><rect x="296.5" y="316" width="6" height="3.5" fill="#15254a"/><rect x="294.5" y="340.6" width="15.5" height="8" fill="#2c5fb6"/><rect x="296.5" y="343.5" width="8" height="3" fill="#15254a"/><rect x="304" y="324" width="5" height="2" fill="#333"/></g></g>
<!-- KNX module A -->
<g transform="translate(41 392.5)"><g><rect x="0" y="0" width="22.5" height="28" rx="1" fill="#f1f1f1"/><rect x="0" y="0" width="22.5" height="28" rx="1" fill="none" stroke="#d0d0d0" stroke-width="0.8"/><rect x="1" y="7.5" width="20" height="2" fill="#e89a4a"/><rect x="1" y="10" width="14" height="1.5" fill="#c9c9c9"/><rect x="18" y="3" width="4" height="22" fill="#dadada"/><rect x="3" y="25" width="6" height="3" fill="#bbb"/></g></g>
<!-- chiller -->
<path d="M85.5 473L96.5 471L97 494L86 495Z" fill="#737475"/>
<rect x="87" y="476" width="7" height="11" fill="#3e3f40"/>
<rect x="95.5" y="461" width="41" height="28" fill="#afb0ae"/>
<rect x="129.5" y="467" width="7" height="22" fill="#9d9e9c"/>
<path d="M106.5 469V461.5Q117 457.5 126 460Q129.5 462 129.5 469Z" fill="#3a3b3c"/>
<path d="M94.5 472V463H98.5V472" fill="none" stroke="#8e8f8f" stroke-width="1.3"/>
<rect x="106.5" y="474" width="2" height="3" fill="#666"/>
<path d="M97 487.5H141V502H97Q95 502 95 494.7Q95 487.5 97 487.5Z" fill="#a3a4a3"/>
<rect x="95.5" y="498" width="46" height="4" fill="#8d8e8d"/>
<ellipse cx="143" cy="489.5" rx="4.5" ry="18" fill="#9a9b9a"/>
<ellipse cx="142.3" cy="489.5" rx="2.8" ry="15" fill="#b0b1b0"/>
<path d="M89.5 505L102 500L104 503L92 508Z" fill="#7c7d7d"/>
<path d="M114 507L128 501L131 504L117 510Z" fill="#868786"/>
<!-- energy meter B -->
<rect x="232" y="462" width="23" height="37.5" fill="#ececec"/>
<rect x="232" y="462" width="23" height="37.5" fill="none" stroke="#d2d2d2" stroke-width="0.7"/>
<rect x="234.5" y="464" width="16" height="4" fill="#3a3a3a"/>
<rect x="235" y="464.5" width="3" height="3" fill="#777"/><rect x="239.5" y="464.5" width="3" height="3" fill="#777"/><rect x="244" y="464.5" width="3" height="3" fill="#777"/>
<rect x="233.5" y="475" width="14" height="9" fill="#8a8a8a"/>
<rect x="235" y="476.5" width="11" height="6" fill="#c8282c"/>
<rect x="235" y="494" width="16" height="3.5" fill="#555"/>
<rect x="250" y="468" width="4.5" height="24" fill="#dcdcdc"/>
<!-- display terminal C -->
<rect x="351" y="301.5" width="54.3" height="32" rx="3.5" fill="#e3e4e5"/>
<rect x="351" y="301.5" width="54.3" height="32" rx="3.5" fill="none" stroke="#c8c9ca" stroke-width="0.8"/>
<rect x="358.8" y="309" width="25.4" height="14.8" rx="1" fill="#55dcee"/>
<rect x="358" y="305" width="14" height="1.4" fill="#7a8fa8"/>
<circle cx="393.5" cy="318" r="6" fill="#d5d6d7"/>
<circle cx="389.5" cy="318" r="2.3" fill="#8c8d8e"/><circle cx="397.5" cy="318" r="2.3" fill="#8c8d8e"/><circle cx="393.5" cy="314" r="2" fill="#b9babb"/><circle cx="393.5" cy="322" r="2" fill="#b9babb"/>
<rect x="359" y="327" width="9" height="1.5" fill="#556"/>
<!-- I/O modules C -->
<g transform="translate(395.6 394.5)"><g><rect x="0" y="1" width="33" height="25.5" fill="#eceeed"/><rect x="3.5" y="0" width="12" height="4.5" fill="#5aa35c"/><rect x="16.5" y="0" width="13" height="4.5" fill="#5aa35c"/><rect x="12" y="-1.5" width="4" height="2" fill="#777"/><rect x="0.5" y="7.5" width="27" height="12.5" fill="#8a8d8b"/><rect x="2" y="9" width="9" height="5" fill="#3e403f"/><rect x="12.5" y="8.5" width="6" height="10.5" fill="#b9bcba"/><rect x="19.5" y="9" width="7" height="9" fill="#6d706e"/><rect x="3" y="15" width="8" height="3.5" fill="#eeefee"/><rect x="3.5" y="22.5" width="26" height="2.6" fill="#5aa35c"/><rect x="29.5" y="4" width="3" height="20" fill="#d4d6d5"/></g></g>
<g transform="translate(395.6 458)"><g><rect x="0" y="1" width="33" height="25.5" fill="#eceeed"/><rect x="3.5" y="0" width="12" height="4.5" fill="#5aa35c"/><rect x="16.5" y="0" width="13" height="4.5" fill="#5aa35c"/><rect x="12" y="-1.5" width="4" height="2" fill="#777"/><rect x="0.5" y="7.5" width="27" height="12.5" fill="#8a8d8b"/><rect x="2" y="9" width="9" height="5" fill="#3e403f"/><rect x="12.5" y="8.5" width="6" height="10.5" fill="#b9bcba"/><rect x="19.5" y="9" width="7" height="9" fill="#6d706e"/><rect x="3" y="15" width="8" height="3.5" fill="#eeefee"/><rect x="3.5" y="22.5" width="26" height="2.6" fill="#5aa35c"/><rect x="29.5" y="4" width="3" height="20" fill="#d4d6d5"/></g></g>
<g transform="translate(328 426.3)"><g><rect x="0" y="1" width="33" height="25.5" fill="#eceeed"/><rect x="3.5" y="0" width="12" height="4.5" fill="#5aa35c"/><rect x="16.5" y="0" width="13" height="4.5" fill="#5aa35c"/><rect x="12" y="-1.5" width="4" height="2" fill="#777"/><rect x="0.5" y="7.5" width="27" height="12.5" fill="#8a8d8b"/><rect x="2" y="9" width="9" height="5" fill="#3e403f"/><rect x="12.5" y="8.5" width="6" height="10.5" fill="#b9bcba"/><rect x="19.5" y="9" width="7" height="9" fill="#6d706e"/><rect x="3" y="15" width="8" height="3.5" fill="#eeefee"/><rect x="3.5" y="22.5" width="26" height="2.6" fill="#5aa35c"/><rect x="29.5" y="4" width="3" height="20" fill="#d4d6d5"/></g></g>
<g transform="translate(328 489)"><g><rect x="0" y="1" width="33" height="25.5" fill="#eceeed"/><rect x="3.5" y="0" width="12" height="4.5" fill="#5aa35c"/><rect x="16.5" y="0" width="13" height="4.5" fill="#5aa35c"/><rect x="12" y="-1.5" width="4" height="2" fill="#777"/><rect x="0.5" y="7.5" width="27" height="12.5" fill="#8a8d8b"/><rect x="2" y="9" width="9" height="5" fill="#3e403f"/><rect x="12.5" y="8.5" width="6" height="10.5" fill="#b9bcba"/><rect x="19.5" y="9" width="7" height="9" fill="#6d706e"/><rect x="3" y="15" width="8" height="3.5" fill="#eeefee"/><rect x="3.5" y="22.5" width="26" height="2.6" fill="#5aa35c"/><rect x="29.5" y="4" width="3" height="20" fill="#d4d6d5"/></g></g>
<!-- router 2 -->
<path d="M446 274.3L461.6 275L462 308.4L446.4 308.2Z" fill="#5e5e5e"/>
<path d="M446 274.3L461.6 275V276.6L446 276Z" fill="#6c6c6c"/>
<path d="M461.6 275L464.2 275.8V308.4H461.6Z" fill="#141414"/>
<rect x="463.8" y="285.5" width="5.2" height="22.6" fill="#262626"/>
<rect x="464.6" y="288.5" width="3.4" height="4" fill="#e0e0e0"/>
<rect x="464.6" y="296.5" width="3.4" height="4.5" fill="#cfcfcf"/>
<rect x="464.6" y="303.5" width="3.4" height="3.2" fill="#a8a8a8"/>
<rect x="444.8" y="286" width="1.5" height="2.2" fill="#555"/>
<rect x="444.8" y="296" width="1.5" height="2.2" fill="#555"/>
<!-- small white device -->
<path d="M463.2 262.2L474.7 257.4L482.8 274.3L471 279.5Z" fill="#f0f1f3" stroke="#c5c8cc" stroke-width="0.7"/>
<path d="M473.5 273.8L477.8 272L479.2 275L475 276.9Z" fill="#7a1f2a"/>
<path d="M467 261L472 259" stroke="#777" stroke-width="0.8"/>
<!-- KNX module D -->
<g transform="translate(448.6 344)"><g><rect x="0" y="0" width="22.5" height="28" rx="1" fill="#f1f1f1"/><rect x="0" y="0" width="22.5" height="28" rx="1" fill="none" stroke="#d0d0d0" stroke-width="0.8"/><rect x="1" y="7.5" width="20" height="2" fill="#e89a4a"/><rect x="1" y="10" width="14" height="1.5" fill="#c9c9c9"/><rect x="18" y="3" width="4" height="22" fill="#dadada"/><rect x="3" y="25" width="6" height="3" fill="#bbb"/></g></g>
<!-- pCO controller E -->
<rect x="504.2" y="300.5" width="30.5" height="42.3" rx="1" fill="#eceeef"/>
<rect x="504.2" y="300.5" width="30.5" height="42.3" rx="1" fill="none" stroke="#d3d5d7" stroke-width="0.6"/>
<rect x="508.7" y="307.8" width="10.8" height="19.8" fill="#22d3e4"/>
<rect x="508" y="307" width="12.2" height="21.3" fill="none" stroke="#c8eef3" stroke-width="0.8"/>
<rect x="520.2" y="301" width="14.5" height="41.5" fill="#a4a8ab"/>
<rect x="521.5" y="301" width="2" height="41.5" fill="#7d8184"/>
<rect x="525.5" y="310" width="5" height="18" fill="#2e3133"/>
<rect x="531.5" y="303" width="2.5" height="38" fill="#8c9093"/>
<rect x="525.5" y="331" width="5" height="9" fill="#5d6164"/>
<circle cx="514" cy="336.4" r="4.6" fill="#8e9193"/>
<circle cx="514" cy="336.4" r="2.6" fill="#c9cbcd"/>
<rect x="505" y="316" width="2" height="8" fill="#b6b9bb"/>
<!-- CANopen logo -->
<text x="543" y="317.5" font-size="9" font-weight="700" fill="#1e6e6a" textLength="14.5" lengthAdjust="spacingAndGlyphs">CAN</text>
<text x="557.5" y="317.5" font-size="9" fill="#9fb9b7" textLength="20" lengthAdjust="spacingAndGlyphs">open</text>
<!-- expansion modules -->
<g transform="translate(588.8 249.8)"><g><rect x="0" y="3" width="38" height="27" rx="1" fill="#e6e8e7"/><rect x="8" y="0" width="15" height="6" fill="#4f9a55"/><rect x="8" y="0" width="15" height="1.5" fill="#6fb573"/><rect x="24" y="0" width="6.5" height="3.5" fill="#4f9a55"/><rect x="0" y="3.5" width="38" height="5" fill="#cfd2d1"/><rect x="1" y="9" width="36" height="12" fill="#f2f3f3"/><rect x="9.5" y="14" width="9.5" height="4" fill="#34497f"/><rect x="2" y="11" width="1.5" height="7" fill="#b8bbba"/><rect x="0" y="21.5" width="38" height="4.5" fill="#c9cccb"/><rect x="8.8" y="25" width="18" height="8" fill="#4f9a55"/><rect x="8.8" y="30" width="18" height="1.5" fill="#3c7f42"/><rect x="26" y="22" width="11" height="2" fill="#aaa"/></g></g>
<g transform="translate(588.8 306.8)"><g><rect x="0" y="3" width="38" height="27" rx="1" fill="#e6e8e7"/><rect x="8" y="0" width="15" height="6" fill="#4f9a55"/><rect x="8" y="0" width="15" height="1.5" fill="#6fb573"/><rect x="24" y="0" width="6.5" height="3.5" fill="#4f9a55"/><rect x="0" y="3.5" width="38" height="5" fill="#cfd2d1"/><rect x="1" y="9" width="36" height="12" fill="#f2f3f3"/><rect x="9.5" y="14" width="9.5" height="4" fill="#34497f"/><rect x="2" y="11" width="1.5" height="7" fill="#b8bbba"/><rect x="0" y="21.5" width="38" height="4.5" fill="#c9cccb"/><rect x="8.8" y="25" width="18" height="8" fill="#4f9a55"/><rect x="8.8" y="30" width="18" height="1.5" fill="#3c7f42"/><rect x="26" y="22" width="11" height="2" fill="#aaa"/></g></g>
<!-- converter E -->
<rect x="513" y="406" width="11.5" height="31.5" rx="1" fill="#ececec"/>
<rect x="513" y="406" width="11.5" height="31.5" rx="1" fill="none" stroke="#cfcfcf" stroke-width="0.6"/>
<rect x="514" y="409" width="9" height="3" fill="#c4c4c4"/>
<rect x="516.5" y="418" width="3" height="3" fill="#c43a3a"/>
<rect x="514" y="432" width="9" height="4" fill="#9a9a9a"/>
<!-- M-Bus logo -->
<path d="M536.5 415.5C538 412 538.5 406.5 540.5 406.5C542.5 406.5 542 414 544 414C546 414 546 406.5 548 406.5C549.5 406.5 549 413 551 415.5" fill="none" stroke="#2aa2da" stroke-width="1.3"/>
<text x="550" y="414.6" font-size="8.5" font-weight="700" fill="#2aa2da" textLength="18.5" lengthAdjust="spacingAndGlyphs">-Bus</text>
<path d="M538 416.8H568.5" stroke="#2aa2da" stroke-width="0.8"/>
<!-- meter 1 -->
<path d="M576 428L582 425L582 433L576 431Z" fill="#d6a93a"/>
<rect x="581" y="422" width="19" height="14" rx="2" fill="#d4a22e"/>
<rect x="583" y="419" width="16" height="5.5" fill="#c0392b"/>
<circle cx="591" cy="417" r="2.6" fill="none" stroke="#888" stroke-width="0.8"/>
<rect x="599" y="411.5" width="30" height="27" fill="#f3f4f5"/>
<rect x="599" y="411.5" width="30" height="27" fill="none" stroke="#d5d7d9" stroke-width="0.7"/>
<rect x="609" y="414.5" width="17" height="4" fill="#7c8a82"/>
<circle cx="610" cy="424" r="1.2" fill="#333"/><circle cx="619" cy="424" r="1.2" fill="#333"/>
<rect x="601" y="428" width="9" height="2.5" fill="#3a5aa0"/>
<rect x="600" y="435.5" width="28" height="2.5" fill="#c9cbcd"/>
<!-- CONV-RESIxx -->
<text x="493.3" y="451.5" font-size="8.6" font-weight="700" fill="#111" textLength="53.5" lengthAdjust="spacingAndGlyphs">CONV-RESIxx</text>
<!-- heat meter -->
<rect x="578.5" y="478" width="28" height="29" fill="#f2f3f4"/>
<rect x="578.5" y="478" width="28" height="29" fill="none" stroke="#d5d7d9" stroke-width="0.7"/>
<rect x="585" y="483" width="18" height="4.5" fill="#7c8a82"/>
<circle cx="585" cy="493" r="1.2" fill="#333"/><circle cx="596" cy="493" r="1.2" fill="#333"/>
<rect x="581" y="498" width="8" height="2.5" fill="#3a5aa0"/>
<rect x="588" y="475.5" width="3.5" height="4" rx="1" fill="#b8381f"/>
<rect x="606" y="481" width="12" height="22" fill="#b9301c"/>
<rect x="618" y="477" width="4" height="30" rx="1.5" fill="#a8260f"/>
<rect x="622" y="481" width="5" height="22" fill="#b9301c"/>
<circle cx="611.5" cy="492" r="5" fill="#e0d6cc"/>
<circle cx="611.5" cy="492" r="3" fill="#8a3a26"/>
<!-- meter bottom left -->
<rect x="512" y="473.5" width="31" height="38" rx="3" fill="#eef0f3"/>
<rect x="512" y="473.5" width="31" height="38" rx="3" fill="none" stroke="#cfd3d8" stroke-width="0.7"/>
<rect x="516" y="479" width="22" height="4" fill="#3c5a9c"/>
<rect x="516" y="483" width="22" height="10" fill="#b3bcb4"/>
<rect x="527" y="488" width="10" height="4" fill="#8d968e"/>
<rect x="510" y="489" width="2.5" height="5" fill="#d4a030"/><rect x="542.5" y="489" width="2.5" height="5" fill="#d4a030"/>
<circle cx="536" cy="504" r="2.5" fill="#aab"/>
<rect x="520" y="497" width="15" height="1.2" fill="#bbb"/>
</svg>


<div class="a t2">ACCESSORI CONTROLLORI</div>
<table>
<tr><th>MOD.</th><th style="text-align:left;padding-left:221px">DESCRIZIONE</th></tr>
<tr><td><span class="c1">3GROUT-WIFI</span></td><td>Router 3G e 4G LTE WIFI</td></tr>
<tr><td><span class="c1">3GROUT-WIFI-PWR</span></td><td>Alimetattore per Router 3G e 4G LTE WIFI</td></tr>
<tr class="d"><td><span class="c1">ARAD9672</span></td><td>Riduttore foro (96x96 mm a 72x72 mm) per montaggio fronte quadro con sostituzione delle serie analogiche TX e RX con dima<br>di foratura 96x96 mm</td></tr>
<tr><td><span class="c1">CM511PS1</span></td><td>Comando a distanza MVB50-MVE. Montaggio fronte quadro. Scala 0÷10 comando 0-10 Vdc</td></tr>
<tr><td><span class="c1">CONV-LIBO-USB</span></td><td>Convertitore isolato USB-4 porte RS485</td></tr>
<tr><td><span class="c1">CONV-RS485-RIP</span></td><td>Ripetitore di segnale RS485 optoisolato con alimentatore</td></tr>
<tr><td><span class="c1">CONV-RESI8</span></td><td>Convertitori M-Bus/Modbus M-Bus/Modbus fino a 8 contabilizzatori</td></tr>
<tr><td><span class="c1">CONV-RESI24</span></td><td>Convertitori M-Bus/Modbus M-Bus/Modbus fino a 24 contabilizzatori</td></tr>
<tr><td><span class="c1">CONV-KNX-232</span></td><td>Convertitore per integrare dispositivi KNX nel sistema Blue ID tramite l'interfaccia RS-232</td></tr>
<tr><td><span class="c1">DG2RM</span></td><td>Convertitore segnale 0÷10 Vdc/2 contatti SPDT 5 (2)A 230 Vac per comando bidirezionale</td></tr>
<tr><td><span class="c1">DG3RM</span></td><td>Convertitore segnale 0÷10 Vdc/3 contatti in sequenza</td></tr>
<tr><td><span class="c1">DG6RM</span></td><td>Convertitore segnale 0÷10 Vdc/6 contatti in sequenza</td></tr>
<tr><td><span class="c1">DGSRMV</span></td><td>Convertitore segnale 0÷10 Vdc/1 contatto SPDT 5 (2)A 230 Vac. Alimentazione 24 Vac</td></tr>
<tr><td><span class="c1">LIBO4-485</span></td><td>Convertitore RS232/485 optoisolato</td></tr>
<tr><td><span class="c1">MN-VWIO-MTP</span></td><td>I/O server Modbus per sistema MultiNET</td></tr>
<tr><td><span class="c1">MTPRO-TL52</span></td><td>Alimentatore 18 Vdc per sonde attive 4-20 mA</td></tr>
<tr><td><span class="c1">RM500</span></td><td>Accessori serie “OMNIA” - Teleposizionatore per controllori linea Omnia, scala 5÷35 °C</td></tr>
</table>

<div class="a pill"></div>
<div class="a pg">82</div>
<div class="a foot">CONTROLLORI - INVERTER</div>
<div class="a fline"></div>
</body></html>
